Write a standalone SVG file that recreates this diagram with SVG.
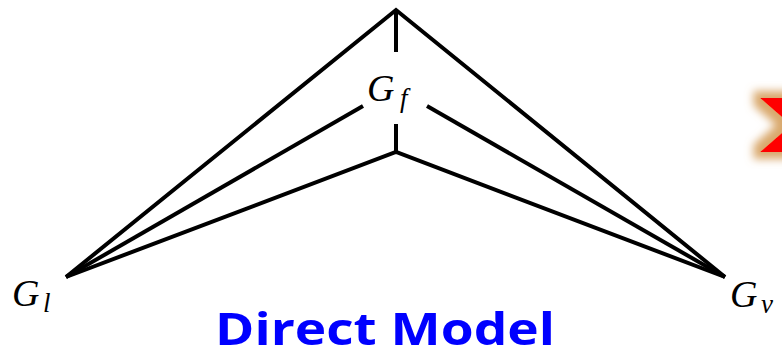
<svg xmlns="http://www.w3.org/2000/svg" width="782" height="358" viewBox="0 0 782 358">
<style>
.edge{stroke:#000;stroke-width:4;fill:none;stroke-linecap:butt;stroke-linejoin:miter}
.lbl{font-family:"Liberation Serif","Times New Roman",serif;font-style:italic;fill:#000}
.sub{font-size:27px}
.main{font-size:38px}
.title{font-family:"Open Sans","Noto Sans",sans-serif;font-weight:bold;fill:#0000FF}
</style>
<defs>
<filter id="glow" x="-30%" y="-50%" width="160%" height="200%">
<feMorphology in="SourceAlpha" operator="dilate" radius="7" result="d"/>
<feGaussianBlur in="d" stdDeviation="4" result="b"/>
<feFlood flood-color="#D9A86C" result="c"/>
<feComposite in="c" in2="b" operator="in" result="g"/>
<feMerge><feMergeNode in="g"/><feMergeNode in="SourceGraphic"/></feMerge>
</filter>
</defs>
<g id="connectors">
<path class="edge" d="M66,277 L396,10 L725,277"/>
<path class="edge" d="M66,277 L363,106"/>
<path class="edge" d="M427,106 L725,277"/>
<path class="edge" d="M66,277 L396,152 L725,277"/>
<path class="edge" d="M396,10 L396,52"/>
<path class="edge" d="M396,124 L396,152"/>
</g>
<g id="node-Gf">
<text class="lbl main" x="367" y="101">G</text><text class="lbl sub" x="400" y="107">f</text>
</g>
<g id="node-Gl">
<text class="lbl main" x="12" y="306">G</text><text class="lbl sub" x="43" y="312">l</text>
</g>
<g id="node-Gv">
<text class="lbl main" x="730" y="307">G</text><text class="lbl sub" x="761" y="313">ν</text>
</g>
<g id="title">
<text class="title" x="215" y="345" font-size="44" textLength="340" lengthAdjust="spacingAndGlyphs">Direct Model</text>
</g>
<g id="arrow">
<polygon points="760,98 850,98 880,125 850,152 760,152 791,125" fill="#FF0000" filter="url(#glow)"/>
</g>
</svg>
